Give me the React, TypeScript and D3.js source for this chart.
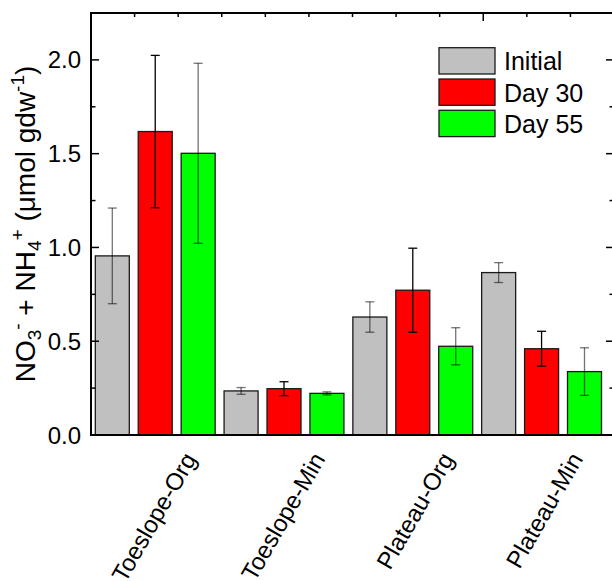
import React from "react";
import * as d3 from "d3";

const categories = ["Toeslope-Org", "Toeslope-Min", "Plateau-Org", "Plateau-Min"];
const seriesNames = ["Initial", "Day 30", "Day 55"];
const seriesColors = ["#C0C0C0", "#FF0000", "#00FF00"];
const initialValues = [0.955, 0.235, 0.629, 0.866];
const initialErrors = [0.255, 0.018, 0.081, 0.053];
const day30Values = [1.618, 0.247, 0.772, 0.46];
const day30Errors = [0.406, 0.037, 0.224, 0.093];
const day55Values = [1.502, 0.222, 0.473, 0.338];
const day55Errors = [0.48, 0.008, 0.099, 0.127];
const yMajorTicks = [0, 0.5, 1.0, 1.5, 2.0];
const yMinorTicks = [0.25, 0.75, 1.25, 1.75];
const topTicks = [1, 2, 3, 4, 5, 6, 7, 8, 9, 10, 11];
const topMajor = [9];

const W = 612;
const H = 581;
const L = 91;
const R = 614;
const T = 13;
const B = 435;
const FONT = "'Liberation Sans', Arial, Helvetica, sans-serif";

export default function App() {
  const y = d3.scaleLinear().domain([0, 2.25]).range([B, T]);
  const xBar = d3.scaleLinear().domain([0, 11]).range([112.3, 584.5]);
  const xTop = d3.scaleLinear().domain([0, 12]).range([L, R]);
  const barW = 34;
  const values = [initialValues, day30Values, day55Values];
  const errors = [initialErrors, day30Errors, day55Errors];
  const errColors = ["rgba(0,0,0,0.55)", "#000", "rgba(0,0,0,0.55)"];

  const bars: any[] = [];
  categories.forEach((c, gi) => {
    seriesNames.forEach((s, si) => {
      const idx = gi * 3 + si;
      const cx = xBar(idx);
      const v = values[si][gi];
      const e = errors[si][gi];
      bars.push(
        <g key={c + s}>
          <rect
            x={cx - barW / 2}
            y={y(v)}
            width={barW}
            height={B - y(v)}
            fill={seriesColors[si]}
            stroke="#1a1a1a"
            strokeWidth={1.3}
          />
          <g stroke={errColors[si]} strokeWidth={1.3}>
            <line x1={cx} x2={cx} y1={y(v + e)} y2={y(v - e)} />
            <line x1={cx - 4.5} x2={cx + 4.5} y1={y(v + e)} y2={y(v + e)} />
            <line x1={cx - 4.5} x2={cx + 4.5} y1={y(v - e)} y2={y(v - e)} />
          </g>
        </g>
      );
    });
  });

  return (
    <svg width={W} height={H} style={{ position: "absolute", left: 0, top: 0, background: "#fff" }} fontFamily={FONT}>
      {bars}
      {/* frame */}
      <g stroke="#000" strokeWidth={2} fill="none">
        <line x1={L} x2={L} y1={T} y2={B + 1} />
        <line x1={L - 1} x2={W} y1={B} y2={B} />
        <line x1={L - 1} x2={W} y1={T} y2={T} />
      </g>
      {/* ticks */}
      <g stroke="#000" strokeWidth={1.5}>
        {yMajorTicks.map((t) => (
          <line key={"lm" + t} x1={L} x2={L + 8} y1={y(t)} y2={y(t)} />
        ))}
        {yMinorTicks.map((t) => (
          <line key={"ln" + t} x1={L} x2={L + 4.5} y1={y(t)} y2={y(t)} />
        ))}
        {yMajorTicks.map((t) => (
          <line key={"rm" + t} x1={W} x2={R - 8} y1={y(t)} y2={y(t)} />
        ))}
        {yMinorTicks.map((t) => (
          <line key={"rn" + t} x1={W} x2={R - 4.5} y1={y(t)} y2={y(t)} />
        ))}
        {topTicks.map((t) => (
          <line key={"t" + t} x1={xTop(t)} x2={xTop(t)} y1={T} y2={T + (topMajor.includes(t) ? 8 : 4)} />
        ))}
      </g>
      {/* y tick labels */}
      {yMajorTicks.map((t) => (
        <text key={"yl" + t} x={81} y={y(t) + 8.5} textAnchor="end" fontSize={24} fill="#000">
          {d3.format(".1f")(t)}
        </text>
      ))}
      {/* category labels */}
      {categories.map((c, gi) => {
        const cx = xBar(gi * 3 + 1);
        const ax = cx + 42;
        const ay = 459;
        return (
          <text
            key={c}
            x={ax}
            y={ay}
            textAnchor="end"
            fontSize={24}
            fill="#000"
            transform={`rotate(-60 ${ax} ${ay})`}
          >
            {c}
          </text>
        );
      })}
      {/* y axis title */}
      <text x={35} y={224} textAnchor="middle" fontSize={28} fill="#000" transform="rotate(-90 35 224)">
        <tspan>NO</tspan>
        <tspan fontSize={19} dy={6}>3</tspan>
        <tspan fontSize={19} dy={-17}>-</tspan>
        <tspan dy={11}> + NH</tspan>
        <tspan fontSize={19} dy={6}>4</tspan>
        <tspan fontSize={19} dy={-17}>+</tspan>
        <tspan dy={11}> (μmol gdw</tspan>
        <tspan fontSize={19} dy={-11}>-1</tspan>
        <tspan dy={11}>)</tspan>
      </text>
      {/* legend */}
      {seriesNames.map((s, i) => {
        const ly = 47.7 + i * 31.3;
        return (
          <g key={"lg" + s}>
            <rect x={439} y={ly} width={56} height={26.3} fill={seriesColors[i]} stroke="#1a1a1a" strokeWidth={1.3} />
            <text x={504} y={ly + 22.5} fontSize={25} fill="#000">
              {s}
            </text>
          </g>
        );
      })}
    </svg>
  );
}
